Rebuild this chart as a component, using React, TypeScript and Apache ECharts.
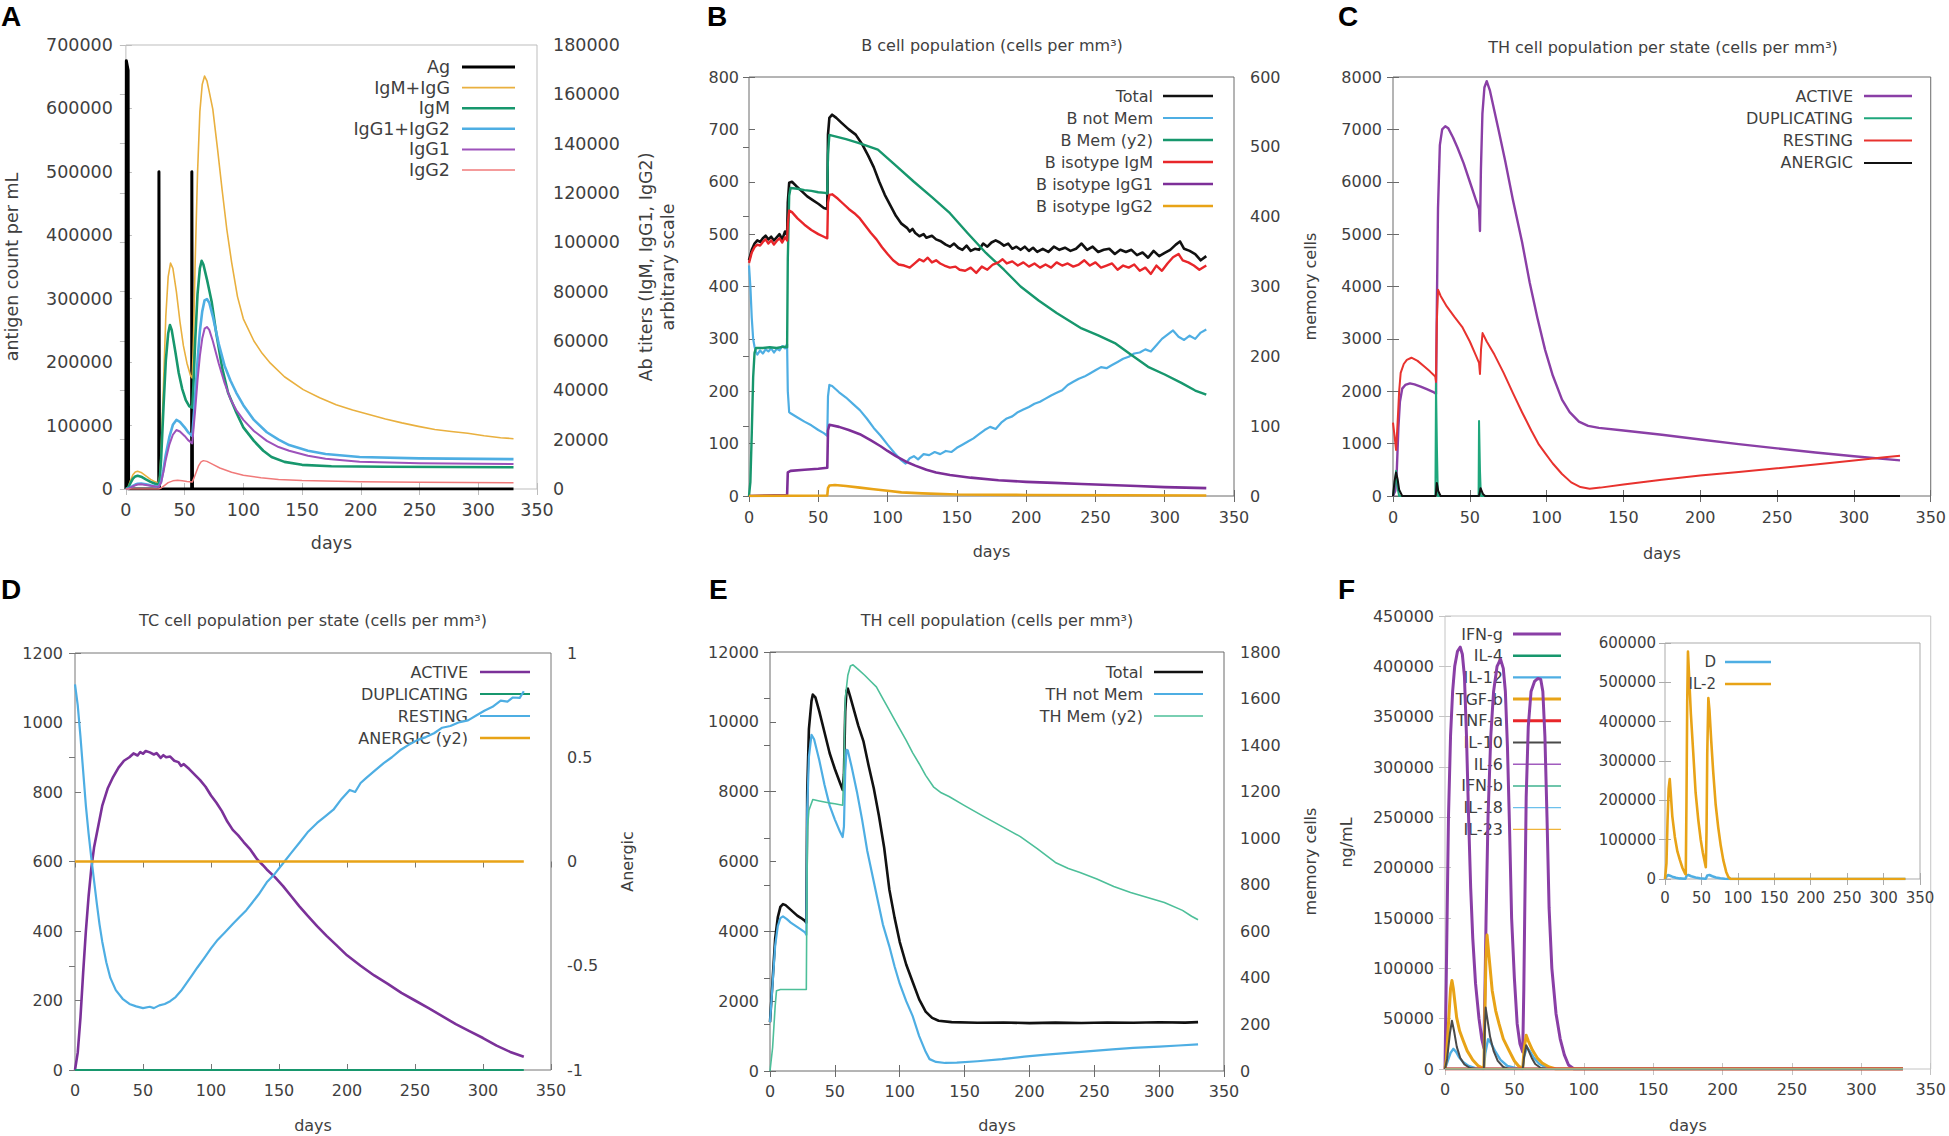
import React, { useEffect, useRef } from "react";
import * as echarts from "echarts";

type Pt = [number, number];

/* ================= DATA ================= */
// x axis (days) shared by every panel
const DAY_MIN = 0;
const DAY_MAX = 350;
const DAY_STEP = 50;

/* ---- Panel A : antigen (left axis) and antibody titers (right axis) ---- */
const A_AG: Pt[] = [[0,0],[0.4,675000],[1.9,660000],[2.3,0],[28,0],[28.15,500000],[28.6,0],[56,0],[56.15,500000],[56.7,0],[330,0]];
const A_IGM_IGG: Pt[] = [[0,0],[2,800],[4,3500],[6,5800],[8,6900],[10,7200],[13,6700],[17,5300],[21,3900],[25,2900],[28,2400],[29,6000],[30,15000],[32,42000],[34,70000],[36,86000],[38,91600],[40,89500],[43,80000],[46,68000],[49,58000],[52,51000],[55,46000],[56.5,45000],[57.5,60000],[59,92000],[61,128000],[63,153000],[65,164000],[67,167400],[69,165500],[71,161000],[74,154000],[78,138000],[82,121000],[86,105000],[90,92000],[95,78000],[100,69000],[109,60000],[116,55000],[123,51000],[135,45500],[151,40300],[165,37000],[179,34200],[193,32000],[207,30200],[221,28400],[235,26800],[249,25400],[263,24100],[277,23300],[291,22600],[305,21600],[319,20800],[330,20400]];
const A_IGM: Pt[] = [[0,0],[2,600],[4,2500],[6,4200],[8,5100],[10,5400],[13,5000],[17,3900],[21,2900],[25,2100],[28,1800],[29,5000],[30,12000],[32,33000],[34,52000],[36,63000],[37.5,66500],[39,64500],[42,56000],[45,47000],[48,40500],[51,36000],[54,33500],[56.5,33000],[57.5,42000],[59,60000],[61,79000],[63,89500],[64.5,92500],[66,91000],[69,85000],[73,76000],[77,63000],[82,49000],[87,39000],[94,31000],[100,25000],[109,19500],[117,15500],[124,13000],[135,11000],[150,9800],[175,9200],[220,9000],[330,8800]];
const A_IGG12: Pt[] = [[0,0],[2,150],[4,700],[6,1300],[8,1800],[10,2100],[13,2200],[17,1900],[21,1500],[25,1150],[28,1000],[30,3000],[32,8000],[34,14000],[37,21000],[40,26000],[43,28000],[46,27200],[50,25000],[53,23000],[56.5,21500],[57.5,28000],[59,38000],[61,52000],[63,64000],[65,72000],[67,76500],[69,77000],[71,75500],[74,70000],[79,59000],[84,50000],[89,44000],[94,39000],[100,34000],[109,28000],[120,23000],[130,20000],[139,17800],[155,15500],[170,14200],[199,13000],[250,12400],[330,12100]];
const A_IGG1: Pt[] = [[0,0],[2,120],[4,600],[6,1100],[8,1500],[10,1800],[13,1900],[17,1650],[21,1300],[25,1000],[28,900],[30,2600],[32,7000],[34,12000],[37,18000],[40,22000],[43,23900],[46,23300],[50,21500],[53,19800],[56.5,18500],[57.5,24000],[59,32000],[61,44000],[63,54000],[65,61000],[67,65000],[69,65700],[71,64500],[74,60000],[79,51000],[84,43000],[89,36500],[94,32000],[100,28000],[109,23500],[120,19500],[130,17000],[139,15500],[155,13500],[170,12300],[199,11000],[250,10400],[330,10100]];
const A_IGG2: Pt[] = [[0,0],[28,0],[30,400],[33,1500],[36,2600],[40,3300],[44,3500],[48,3300],[52,3000],[56.5,2800],[58,4500],[60,7000],[62,9500],[64,11000],[66,11500],[69,11200],[74,10000],[80,8500],[90,6800],[100,5600],[115,4600],[130,3900],[150,3400],[200,2900],[250,2700],[330,2500]];

/* ---- Panel B : B cell population ---- */
const B_TOTAL: Pt[] = [[0,450],[2,470],[4,482],[6,488],[8,485],[10,492],[12,497],[14,490],[16,495],[18,488],[20,494],[22,500],[24,490],[26,505],[27.5,498],[28,560],[29,598],[31,600],[34,592],[38,582],[42,572],[46,565],[50,558],[54,550],[56.5,548],[57,690],[58,722],[60,728],[63,722],[67,712],[72,700],[77,690],[82,670],[86,650],[90,628],[94,600],[98,575],[102,555],[106,535],[110,520],[114,512],[116,505],[118,510],[120,502],[123,496],[126,500],[128,493],[132,497],[135,490],[138,487],[142,480],[145,476],[148,482],[151,474],[154,470],[157,478],[160,468],[163,472],[166,470],[169,482],[172,476],[175,484],[178,488],[181,484],[184,478],[187,482],[190,472],[193,476],[196,470],[199,476],[202,468],[205,474],[208,466],[212,472],[216,466],[220,476],[224,470],[228,474],[232,468],[236,472],[240,482],[244,470],[248,476],[252,466],[256,470],[260,472],[264,462],[268,470],[272,466],[276,470],[280,460],[284,465],[288,455],[292,468],[296,458],[300,464],[304,470],[308,480],[311,486],[314,472],[318,468],[322,462],[326,450],[330,458]];
const B_NOTMEM: Pt[] = [[0,440],[1,400],[2,340],[3,300],[4,285],[5,275],[6,270],[8,278],[10,272],[12,280],[14,276],[16,282],[18,274],[20,281],[22,278],[24,286],[26,282],[27.5,290],[28,200],[29,160],[30,158],[35,150],[40,142],[45,135],[50,126],[54,120],[56.5,115],[57,190],[58,212],[60,210],[65,198],[70,188],[75,176],[80,164],[85,148],[90,130],[95,115],[100,98],[105,82],[110,68],[113,62],[116,72],[119,76],[122,70],[126,80],[130,78],[134,84],[138,80],[142,86],[146,84],[150,92],[154,98],[158,104],[162,110],[166,118],[170,126],[174,132],[178,128],[182,140],[186,148],[190,152],[194,160],[198,165],[202,170],[206,176],[210,180],[214,186],[218,192],[222,197],[226,202],[230,212],[234,218],[238,224],[242,228],[246,234],[250,240],[254,246],[258,244],[262,250],[266,256],[270,262],[274,266],[278,272],[282,274],[286,280],[290,276],[294,288],[298,300],[302,308],[306,316],[310,304],[314,298],[318,306],[322,300],[326,312],[330,318]];
const B_MEM: Pt[] = [[0,0],[1,20],[2,90],[3,170],[4,205],[5,212],[10,212],[15,213],[20,212],[25,214],[27.5,213],[28,340],[29,430],[30,441],[35,440],[40,438],[45,437],[50,435],[55,434],[56.5,433],[57,490],[58,517],[60,516],[70,511],[80,505],[93,496],[105,475],[119,450],[132,428],[145,405],[158,376],[171,348],[184,324],[196,300],[209,280],[222,262],[240,240],[252,230],[264,219],[276,202],[288,185],[300,174],[312,162],[322,151],[330,145]];
const B_IGM: Pt[] = [[0,445],[2,465],[4,475],[6,480],[8,478],[10,485],[12,490],[14,482],[16,488],[18,480],[20,487],[22,492],[24,484],[26,494],[27.5,488],[28,520],[29,545],[31,542],[35,530],[40,518],[45,508],[50,500],[54,495],[56.5,492],[57,560],[58,575],[60,576],[64,568],[68,558],[72,548],[76,540],[80,530],[84,516],[88,502],[92,490],[96,475],[100,462],[104,450],[108,442],[112,440],[116,436],[120,445],[123,452],[126,448],[129,455],[132,446],[135,450],[138,444],[141,440],[145,436],[149,438],[152,432],[156,430],[160,436],[164,426],[168,438],[172,432],[176,442],[180,446],[183,452],[186,444],[190,448],[194,440],[198,446],[202,438],[206,444],[210,436],[214,442],[218,436],[222,446],[226,440],[230,444],[234,438],[238,442],[242,450],[246,440],[250,446],[254,436],[258,440],[262,444],[266,432],[270,440],[274,436],[278,442],[282,430],[286,436],[290,424],[294,440],[298,430],[302,444],[306,456],[310,462],[313,450],[317,446],[321,440],[325,432],[330,440]];
const B_IGG1: Pt[] = [[0,0],[27.5,2],[28,45],[30,48],[40,50],[50,52],[56.5,54],[57,125],[58,136],[65,132],[72,126],[80,118],[88,106],[95,95],[100,86],[106,76],[113,66],[120,58],[128,50],[135,45],[145,40],[160,35],[180,30],[200,27],[220,25],[240,23],[260,21],[280,19],[300,17],[330,15]];
const B_IGG2: Pt[] = [[0,0],[56.5,1],[57,15],[58,20],[62,21],[70,19],[80,16],[90,13],[100,10],[110,7],[125,5],[150,3],[200,2],[330,1]];

/* ---- Panel C : TH cells per state ---- */
const C_ACTIVE: Pt[] = [[0,0],[1.5,100],[2.5,500],[3.5,1300],[4.5,1800],[6,2050],[8,2120],[11,2150],[14,2130],[18,2090],[22,2040],[26,1990],[28,1950],[28.5,3500],[29.3,5500],[30.5,6700],[32,7000],[34,7060],[36,7020],[39,6850],[42,6650],[46,6350],[50,6000],[54,5650],[56,5480],[56.6,5060],[57.2,6200],[58.2,7300],[59.5,7800],[61,7920],[63,7750],[66,7350],[69,6950],[73,6400],[78,5660],[84,4850],[89,4070],[94,3400],[99,2790],[104,2300],[110,1840],[115,1600],[121,1420],[127,1340],[134,1300],[150,1250],[175,1170],[200,1080],[225,990],[250,910],[275,830],[300,760],[330,680]];
const C_DUP: Pt[] = [[0,0],[1,200],[2,480],[3,150],[4,0],[27.6,0],[28,2150],[28.6,900],[29.2,0],[55.7,0],[56,1430],[56.6,500],[57.2,0],[330,0]];
const C_REST: Pt[] = [[0,1400],[1,1150],[2,880],[3,1400],[4,2000],[5,2350],[7,2520],[9,2600],[12,2640],[16,2580],[20,2480],[24,2380],[27.5,2280],[28,2180],[28.5,3300],[29.3,3940],[31,3820],[35,3620],[40,3420],[45,3230],[50,2950],[54,2680],[56,2540],[56.6,2330],[57.3,2800],[58.3,3110],[61,2950],[66,2700],[72,2350],[78,1970],[84,1600],[90,1250],[95,980],[99,820],[104,620],[110,420],[116,260],[122,170],[128,140],[135,160],[150,220],[175,310],[200,390],[225,460],[250,530],[275,600],[300,680],[320,740],[330,770]];
const C_ANERGIC: Pt[] = [[0,0],[1,280],[2,450],[3,320],[4,120],[6,0],[27.8,0],[28.5,250],[29.5,90],[31,0],[56,0],[57,150],[58.5,40],[60,0],[330,0]];

/* ---- Panel D : TC cells per state ---- */
const D_ACTIVE: Pt[] = [[0,0],[2,50],[4,150],[6,280],[8,400],[10,500],[12,580],[14,640],[17,700],[20,760],[24,810],[28,843],[32,870],[36,890],[40,900],[43,911],[46,905],[48,915],[50,910],[52,918],[55,914],[58,908],[60,912],[63,898],[65,906],[67,900],[70,902],[73,890],[76,886],[78,875],[80,880],[84,866],[88,850],[92,834],[96,815],[100,790],[104,769],[108,745],[112,715],[116,691],[120,675],[124,656],[129,634],[134,606],[138,590],[141,577],[147,555],[153,529],[159,500],[165,471],[171,444],[178,414],[185,386],[192,360],[200,330],[210,300],[220,272],[230,248],[240,222],[250,200],[260,178],[270,155],[280,132],[290,112],[300,92],[310,70],[320,52],[330,38]];
const D_DUP: Pt[] = [[0,0],[330,0]];
const D_REST: Pt[] = [[0,1110],[2,1050],[4,960],[6,860],[8,760],[10,680],[12,610],[14,545],[16,480],[18,420],[20,370],[23,310],[26,265],[30,230],[35,205],[40,190],[45,183],[50,178],[55,182],[58,178],[62,186],[66,190],[70,198],[74,210],[78,228],[82,250],[86,272],[90,295],[95,322],[100,350],[105,375],[110,395],[116,420],[121,440],[126,460],[130,480],[135,505],[141,540],[147,565],[153,595],[159,625],[165,654],[171,684],[178,711],[184,730],[190,749],[196,780],[202,806],[206,800],[210,826],[214,840],[220,860],[227,883],[233,900],[239,920],[245,935],[252,950],[258,958],[264,969],[270,985],[276,990],[282,1000],[289,1006],[295,1020],[301,1034],[307,1045],[313,1063],[318,1060],[322,1072],[327,1071],[330,1090]];
const D_ANERGIC: Pt[] = [[0,0],[330,0]];

/* ---- Panel E : TH cell population ---- */
const E_TOTAL: Pt[] = [[0,1400],[2,2600],[4,3800],[6,4400],[8,4700],[10,4780],[12,4750],[15,4650],[18,4550],[21,4450],[24,4380],[27,4300],[28,4250],[28.7,8000],[30,9800],[32,10600],[33,10780],[35,10700],[38,10300],[42,9700],[46,9100],[50,8650],[54,8250],[56,8050],[57,8500],[58,10300],[59,10900],[60,10950],[62,10700],[65,10300],[68,9900],[72,9450],[76,8750],[80,8100],[84,7300],[88,6400],[92,5200],[96,4400],[100,3700],[105,3050],[110,2550],[115,2050],[120,1700],[125,1520],[130,1440],[140,1400],[160,1380],[180,1390],[200,1370],[220,1385],[240,1375],[260,1390],[280,1380],[300,1395],[320,1385],[330,1400]];
const E_NOTMEM: Pt[] = [[0,1400],[2,2500],[4,3600],[6,4150],[8,4380],[10,4430],[13,4350],[16,4250],[20,4150],[24,4050],[27,3970],[28,3900],[28.7,7500],[30,9000],[32,9630],[34,9500],[38,8900],[42,8200],[46,7600],[50,7200],[54,6850],[56,6700],[57,7000],[58,8600],[59,9200],[60,9180],[63,8700],[67,8000],[71,7200],[75,6300],[79,5600],[83,4900],[87,4200],[92,3570],[96,3000],[100,2500],[105,2000],[110,1570],[115,1000],[120,550],[123,340],[128,260],[135,230],[144,240],[160,280],[179,340],[196,410],[213,470],[230,520],[247,570],[264,620],[280,660],[300,700],[315,730],[330,760]];
const E_MEM: Pt[] = [[0,0],[2,100],[4,280],[5,345],[8,350],[15,350],[20,350],[28,350],[28.5,800],[29,1050],[30,1120],[33,1166],[38,1160],[45,1152],[50,1148],[56,1142],[57,1300],[58,1600],[60,1700],[62,1740],[64,1745],[68,1725],[73,1700],[78,1672],[82,1650],[87,1600],[91,1560],[96,1509],[100,1470],[105,1420],[110,1367],[115,1320],[120,1270],[126,1221],[132,1195],[138,1179],[150,1140],[165,1093],[179,1050],[193,1007],[206,955],[220,896],[230,870],[239,853],[252,825],[265,793],[278,767],[291,745],[304,724],[318,690],[325,665],[330,650]];

/* ---- Panel F : cytokines (main) and inset ---- */
const F_IFNG: Pt[] = [[0,0],[0.8,80000],[1.5,150000],[2.5,250000],[4,331000],[5.5,375000],[7,400000],[9,415000],[11,419000],[12.5,412000],[14,390000],[15.5,330000],[17,250000],[18.5,180000],[20,130000],[22,85000],[24.5,50000],[26.5,30000],[28,21000],[28.8,80000],[29.6,150000],[31,250000],[33,331000],[35,375000],[37.5,400000],[40,407000],[42,398000],[43.5,375000],[45,320000],[46.5,240000],[48,150000],[50,90000],[52,45000],[54,25000],[56,17000],[56.8,80000],[57.5,160000],[58.5,270000],[60,340000],[62,375000],[64.5,385000],[67,388000],[69,387000],[70.5,375000],[72,330000],[73.5,250000],[75,160000],[77,100000],[80,55000],[83,30000],[86,14000],[89,4000],[93,0],[330,0]];
const F_IL4: Pt[] = [[0,0],[330,0]];
const F_IL12: Pt[] = [[0,0],[2,8000],[4,16000],[6,20000],[8,17000],[10,12000],[13,7000],[17,3000],[22,800],[28,0],[29,15000],[31,29600],[33,26000],[36,18000],[40,9000],[45,3000],[52,500],[56,0],[57,12000],[59,21700],[61,18000],[64,11000],[68,5000],[73,1500],[80,0],[330,0]];
const F_TGFB: Pt[] = [[0,0],[1,10000],[2.5,45000],[4,80000],[5,88000],[6,80000],[8.4,51000],[10.5,38000],[13,28600],[16,18000],[20,9000],[24,3000],[28,500],[28.8,60000],[29.5,110000],[30.3,133000],[31.5,115000],[34,78000],[36.5,58000],[39,44500],[42,30000],[46,18800],[50,8000],[53,3000],[56,500],[57,20000],[58.5,33600],[60,28000],[63,18800],[66.5,11000],[70,5900],[75,2000],[80,0],[330,0]];
const F_TNFA: Pt[] = [[0,0],[330,0]];
const F_IL10: Pt[] = [[0,0],[1.5,10000],[3.5,35000],[5,48000],[6.5,38000],[8.5,22000],[11,11000],[14,4500],[18,1000],[22,0],[28,0],[28.5,30000],[29.3,61000],[30.5,50000],[32.5,32000],[35,18000],[38,8000],[42,2000],[46,0],[56,0],[57,12000],[58.5,23700],[60,19000],[62.5,11000],[65,5000],[69,1000],[73,0],[330,0]];
const F_IL6: Pt[] = [[0,0],[330,0]];
const F_IFNB: Pt[] = [[0,0],[330,0]];
const F_IL18: Pt[] = [[0,0],[330,0]];
const F_IL23: Pt[] = [[0,0],[330,0]];
const F_D: Pt[] = [[0,0],[2,6000],[4,10000],[6,9000],[10,6000],[15,3000],[20,1500],[27,500],[28,500],[30,9000],[32,10000],[36,7000],[42,4000],[48,2000],[55,800],[56,800],[58,9000],[61,10000],[65,7000],[70,4000],[76,2000],[82,600],[88,0],[330,0]];
const F_IL2: Pt[] = [[0,0],[2,40000],[3.5,150000],[5,230000],[6.5,254000],[8,215000],[10,160000],[13.5,107000],[17,70000],[20.5,48000],[24,28000],[27.5,14000],[28.5,12000],[29.5,200000],[30.5,450000],[31.5,578000],[33,520000],[35.5,420000],[38.8,320000],[42,220000],[45.7,150000],[49,100000],[52,66000],[56,30000],[57,120000],[58,320000],[59.5,460000],[61,430000],[63.5,350000],[66,277000],[69.5,190000],[73,132000],[76.5,85000],[80,48000],[84,18000],[87,5000],[90,0],[330,0]];

/* ================= LAYOUT / STYLE ================= */
const FONT = "'DejaVu Sans', sans-serif";
const TXT = "#3f3f3f";

const PANELS: any[] = [
  { // A
    left: 120, top: 45, width: 417, height: 444, frame: "#bdbdbd", font: 17.5,
    y: { min: 0, max: 700000, interval: 100000, margin: 13, name: "antigen count per mL", nameGap: 103 },
    y2: { min: 0, max: 180000, interval: 20000, margin: 16, name: "Ab titers (IgM, IgG1, IgG2)\narbitrary scale", nameGap: 98 },
    xMargin: 12, xNameGap: 43,
    legend: { right: 450, x1: 462, x2: 515, y0: 67, dy: 20.6 },
    series: [
      { name: "Ag", data: A_AG, color: "#000000", width: 3 },
      { name: "IgM+IgG", data: A_IGM_IGG, color: "#e9b03f", width: 1.6, y2: true },
      { name: "IgM", data: A_IGM, color: "#17976d", width: 2.6, y2: true },
      { name: "IgG1+IgG2", data: A_IGG12, color: "#4eaee3", width: 2.6, y2: true },
      { name: "IgG1", data: A_IGG1, color: "#9d52bb", width: 2, y2: true },
      { name: "IgG2", data: A_IGG2, color: "#f07a7a", width: 1.5, y2: true },
    ],
  },
  { // B
    left: 749, top: 77, width: 485, height: 419, frame: "#6a6a6a", font: 16,
    y: { min: 0, max: 800, interval: 100, margin: 10 },
    y2: { min: 0, max: 600, interval: 100, margin: 16, name: "memory cells", nameGap: 66 },
    xMargin: 13, xNameGap: 45,
    legend: { right: 1153, x1: 1163, x2: 1213, y0: 96, dy: 22 },
    series: [
      { name: "Total", data: B_TOTAL, color: "#111111", width: 2.6 },
      { name: "B not Mem", data: B_NOTMEM, color: "#4eaee3", width: 2.2 },
      { name: "B Mem (y2)", data: B_MEM, color: "#17976d", width: 2.4, y2: true },
      { name: "B isotype IgM", data: B_IGM, color: "#e8262a", width: 2.4 },
      { name: "B isotype IgG1", data: B_IGG1, color: "#7d2f98", width: 2.6 },
      { name: "B isotype IgG2", data: B_IGG2, color: "#e8a317", width: 2.6 },
    ],
  },
  { // C
    left: 1393, top: 77, width: 541, height: 419, frame: "#6a6a6a", font: 16,
    y: { min: 0, max: 8000, interval: 1000, margin: 11 },
    xMargin: 13, xNameGap: 47,
    legend: { right: 1853, x1: 1864, x2: 1912, y0: 96, dy: 22.3 },
    series: [
      { name: "ACTIVE", data: C_ACTIVE, color: "#8a3fa6", width: 2.4 },
      { name: "DUPLICATING", data: C_DUP, color: "#1fa77c", width: 2 },
      { name: "RESTING", data: C_REST, color: "#e8322e", width: 2 },
      { name: "ANERGIC", data: C_ANERGIC, color: "#111111", width: 2 },
    ],
  },
  { // D
    left: 75, top: 653, width: 476, height: 419, frame: "#777777", font: 16,
    y: { min: 0, max: 1200, interval: 200, margin: 12 },
    y2: { min: -1, max: 1, interval: 0.5, margin: 16, name: "Anergic", nameGap: 66 },
    xMargin: 12, xNameGap: 45,
    legend: { right: 468, x1: 480, x2: 530, y0: 672, dy: 22 },
    series: [
      { name: "ACTIVE", data: D_ACTIVE, color: "#7b3199", width: 2.6 },
      { name: "DUPLICATING", data: D_DUP, color: "#17976d", width: 2.2 },
      { name: "RESTING", data: D_REST, color: "#4eaee3", width: 2.2 },
      { name: "ANERGIC (y2)", data: D_ANERGIC, color: "#e8a317", width: 2.6, y2: true },
    ],
  },
  { // E
    left: 770, top: 652, width: 454, height: 420, frame: "#6a6a6a", font: 16,
    y: { min: 0, max: 12000, interval: 2000, margin: 11 },
    y2: { min: 0, max: 1800, interval: 200, margin: 16, name: "memory cells", nameGap: 76 },
    xMargin: 12, xNameGap: 44,
    legend: { right: 1143, x1: 1154, x2: 1203, y0: 672, dy: 22 },
    series: [
      { name: "Total", data: E_TOTAL, color: "#111111", width: 2.6 },
      { name: "TH not Mem", data: E_NOTMEM, color: "#4eaee3", width: 2.2 },
      { name: "TH Mem (y2)", data: E_MEM, color: "#4dbf99", width: 1.6, y2: true },
    ],
  },
  { // F main
    left: 1445, top: 616, width: 488, height: 456, frame: "#c4c4c4", font: 16,
    y: { min: 0, max: 450000, interval: 50000, margin: 11, name: "ng/mL", nameGap: 89 },
    xMargin: 12, xNameGap: 46,
    legend: { right: 1503, x1: 1513, x2: 1561, y0: 634, dy: 21.7 },
    series: [
      { name: "IFN-g", data: F_IFNG, color: "#8a3fa6", width: 3 },
      { name: "IL-4", data: F_IL4, color: "#17976d", width: 2.6 },
      { name: "IL-12", data: F_IL12, color: "#4eaee3", width: 2.4 },
      { name: "TGF-b", data: F_TGFB, color: "#e8a317", width: 3 },
      { name: "TNF-a", data: F_TNFA, color: "#e8262a", width: 3 },
      { name: "IL-10", data: F_IL10, color: "#4a4a4a", width: 2 },
      { name: "IL-6", data: F_IL6, color: "#a15cbe", width: 1.5 },
      { name: "IFN-b", data: F_IFNB, color: "#3fb28f", width: 1.5 },
      { name: "IL-18", data: F_IL18, color: "#6cc0ec", width: 1.2 },
      { name: "IL-23", data: F_IL23, color: "#f0b43a", width: 1.2 },
    ],
  },
  { // F inset
    left: 1665, top: 643, width: 255, height: 236, frame: "#ababab", font: 15, bg: "#ffffff",
    y: { min: 0, max: 600000, interval: 100000, margin: 9 },
    xMargin: 11,
    legend: { right: 1716, x1: 1725, x2: 1771, y0: 662, dy: 22 },
    series: [
      { name: "D", data: F_D, color: "#4eaee3", width: 2.6 },
      { name: "IL-2", data: F_IL2, color: "#e8a317", width: 2.6 },
    ],
  },
];

const TITLES = [
  { text: "B cell population (cells per mm³)", x: 992, y: 45 },
  { text: "TH cell population per state (cells per mm³)", x: 1663, y: 47 },
  { text: "TC cell population per state (cells per mm³)", x: 313, y: 620 },
  { text: "TH cell population (cells per mm³)", x: 997, y: 620 },
];
const LETTERS = [
  { text: "A", x: 1, y: 16 }, { text: "B", x: 707, y: 16 }, { text: "C", x: 1338, y: 16 },
  { text: "D", x: 1, y: 589 }, { text: "E", x: 709, y: 589 }, { text: "F", x: 1338, y: 589 },
];

function buildOption() {
  const grid: any[] = [];
  const xAxis: any[] = [];
  const yAxis: any[] = [];
  const series: any[] = [];
  const elements: any[] = [];
  const fmt = (v: number) => String(v);

  PANELS.forEach((p, gi) => {
    grid.push({
      left: p.left, top: p.top, width: p.width, height: p.height,
      show: true, borderColor: p.frame, borderWidth: 1,
      backgroundColor: p.bg || "transparent", containLabel: false,
    });
    const tick = { show: true, inside: true, length: 6, lineStyle: { color: p.frame, width: 1 } };
    const lbl = (margin: number, show = true) => ({
      show, margin, fontSize: p.font, color: TXT, fontFamily: FONT, formatter: fmt,
    });
    const nameStyle = { fontSize: p.font, color: TXT, fontFamily: FONT, lineHeight: p.font * 1.25 };
    const xi = xAxis.length;
    xAxis.push({
      gridIndex: gi, type: "value", position: "bottom", min: DAY_MIN, max: DAY_MAX, interval: DAY_STEP,
      axisLine: { show: false }, axisTick: tick, axisLabel: lbl(p.xMargin), splitLine: { show: false },
      name: p.xNameGap != null ? "days" : "", nameLocation: "middle", nameGap: p.xNameGap || 0, nameTextStyle: nameStyle,
    });
    xAxis.push({
      gridIndex: gi, type: "value", position: "top", min: DAY_MIN, max: DAY_MAX, interval: DAY_STEP,
      axisLine: { show: false }, axisTick: tick, axisLabel: { show: false }, splitLine: { show: false },
    });
    const yi = yAxis.length;
    yAxis.push({
      gridIndex: gi, type: "value", position: "left", min: p.y.min, max: p.y.max, interval: p.y.interval,
      axisLine: { show: false }, axisTick: tick, axisLabel: lbl(p.y.margin), splitLine: { show: false },
      name: p.y.name || "", nameLocation: "middle", nameRotate: 90, nameGap: p.y.nameGap || 0, nameTextStyle: nameStyle,
    });
    const r = p.y2 || p.y;
    yAxis.push({
      gridIndex: gi, type: "value", position: "right", min: r.min, max: r.max, interval: r.interval,
      axisLine: { show: false }, axisTick: tick, axisLabel: lbl(p.y2 ? p.y2.margin : 10, !!p.y2),
      splitLine: { show: false },
      name: p.y2 && p.y2.name ? p.y2.name : "", nameLocation: "middle", nameRotate: 90,
      nameGap: p.y2 && p.y2.nameGap ? p.y2.nameGap : 0, nameTextStyle: nameStyle,
    });
    p.series.forEach((s: any) => {
      series.push({
        type: "line", name: s.name, xAxisIndex: xi, yAxisIndex: s.y2 ? yi + 1 : yi,
        data: s.data, showSymbol: false, symbol: "none", silent: true, clip: true,
        lineStyle: { color: s.color, width: s.width, join: "round" }, itemStyle: { color: s.color },
        z: p.bg ? 6 : 2,
      });
    });
    p.series.forEach((s: any, i: number) => {
      const yy = p.legend.y0 + i * p.legend.dy;
      elements.push({
        type: "text", x: p.legend.right, y: yy, z: p.bg ? 7 : 1, silent: true,
        style: { text: s.name, font: `${p.font}px ${FONT}`, fill: TXT,
          textAlign: "right", textVerticalAlign: "middle", align: "right", verticalAlign: "middle" },
      });
      elements.push({
        type: "line", z: p.bg ? 7 : 1, silent: true,
        shape: { x1: p.legend.x1, y1: yy, x2: p.legend.x2, y2: yy },
        style: { stroke: s.color, lineWidth: s.width },
      });
    });
  });

  TITLES.forEach((t) => elements.push({
    type: "text", x: t.x, y: t.y, silent: true,
    style: { text: t.text, font: `16px ${FONT}`, fill: TXT,
      textAlign: "center", textVerticalAlign: "middle", align: "center", verticalAlign: "middle" },
  }));
  LETTERS.forEach((t) => elements.push({
    type: "text", x: t.x, y: t.y, silent: true,
    style: { text: t.text, font: "bold 28px 'Liberation Sans', Arial, sans-serif", fill: "#000",
      textAlign: "left", textVerticalAlign: "middle", align: "left", verticalAlign: "middle" },
  }));

  return {
    animation: false,
    backgroundColor: "#ffffff",
    textStyle: { fontFamily: FONT },
    grid, xAxis, yAxis, series,
    graphic: { elements },
  };
}

export default function App() {
  const ref = useRef<HTMLDivElement>(null);
  useEffect(() => {
    if (!ref.current) return;
    const chart = echarts.init(ref.current, undefined, { renderer: "svg" });
    chart.setOption(buildOption() as any);
    return () => chart.dispose();
  }, []);
  return (
    <div
      ref={ref}
      style={{ position: "absolute", left: 0, top: 0, width: 1949, height: 1136, background: "#fff" }}
    />
  );
}
